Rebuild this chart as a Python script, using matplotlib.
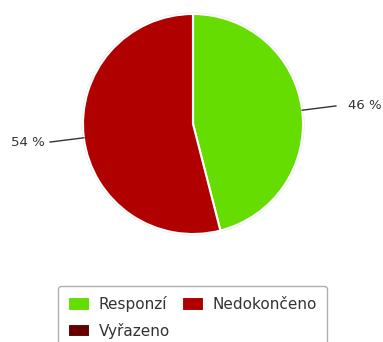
import numpy as np
import matplotlib
matplotlib.use("Agg")
import matplotlib.pyplot as plt

# chart data
categories = ["Responzí", "Nedokončeno", "Vyřazeno"]
shares = [46, 54, 0]
colors = ["#66dd00", "#b00000", "#660000"]

W, H = 383, 342
fig = plt.figure(figsize=(W / 100, H / 100), dpi=100)
ax = fig.add_axes([0, 0, 1, 1])

cx, cy, r = 193, H - 124, 110
wedges, _ = ax.pie(
    shares,
    colors=colors,
    startangle=90,
    counterclock=False,
    center=(cx, cy),
    radius=r,
    wedgeprops=dict(edgecolor="white", linewidth=1.5),
    frame=True,
)
# faint outer rim
ax.add_patch(plt.Circle((cx, cy), r + 0.8, fill=False, ec="#e6e6e6", lw=1, zorder=0))
ax.set_xlim(0, W)
ax.set_ylim(0, H)
ax.set_aspect("equal")
ax.axis("off")

# data labels with radial connectors
for w, val in zip(wedges, shares):
    if val == 0:
        continue
    mid = np.deg2rad((w.theta1 + w.theta2) / 2)
    c, s = np.cos(mid), np.sin(mid)
    side = 1 if c > 0 else -1
    x0, y0 = cx + r * c, cy + r * s
    x1, y1 = cx + (r + 34) * c, cy + (r + 34) * s
    ax.plot([x0, x1], [y0, y1], color="#333333", lw=1)
    gap = 12 if side > 0 else 5
    ax.text(x1 + side * gap, y1, f"{val} %", fontsize=9.5, color="#333333",
            ha="left" if side > 0 else "right", va="center")

order = [0, 2, 1]
leg = ax.legend(
    [wedges[i] for i in order],
    [categories[i] for i in order],
    ncol=2,
    loc="upper left",
    bbox_to_anchor=(58 / W, (H - 286) / H),
    bbox_transform=fig.transFigure,
    fontsize=11,
    frameon=True,
    fancybox=True,
    borderpad=0.65,
    labelspacing=0.7,
    columnspacing=0.8,
    handletextpad=0.55,
    handlelength=1.45,
    handleheight=1.0,
    borderaxespad=0,
)
leg.get_frame().set_edgecolor("#9a9a9a")
leg.get_frame().set_linewidth(1)
for t in leg.get_texts():
    t.set_color("#333333")

fig.savefig("out.png", dpi=100)
